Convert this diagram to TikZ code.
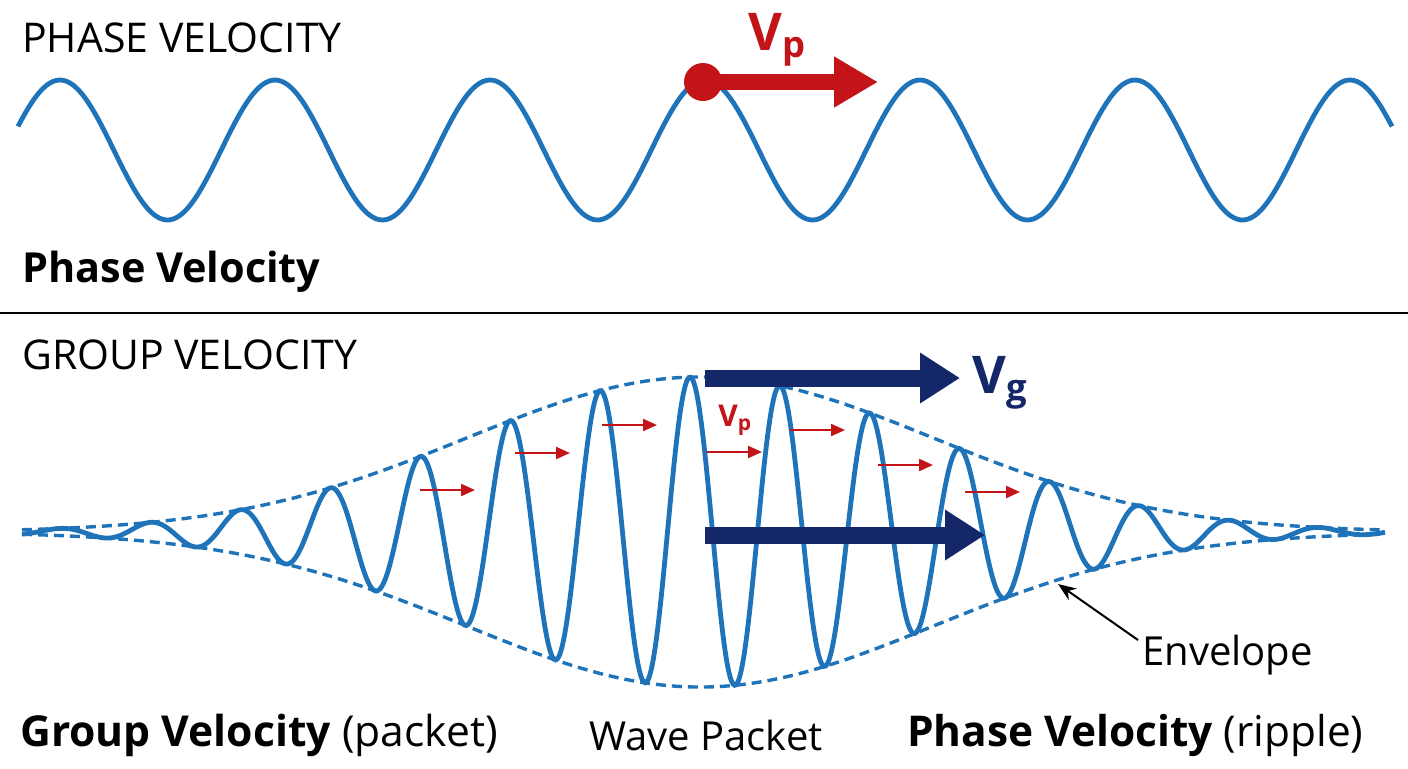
\documentclass[tikz,border=0pt]{standalone}
\usepackage{fontspec}
\setmainfont{Open Sans}
\usetikzlibrary{arrows.meta}
\definecolor{waveblue}{RGB}{30,115,185}
\definecolor{arrred}{RGB}{195,20,25}
\definecolor{navy}{RGB}{20,40,105}
\tikzset{every picture/.style={line width=0.75pt},
  wave/.style={color=waveblue,line width=2.4pt},
  env/.style={color=waveblue,line width=1.7pt,dash pattern=on 5pt off 3pt},
  small vp/.style={color=arrred,line width=1.1pt,-{Triangle[length=7pt,width=6pt]}},
  big vg/.style={color=navy,line width=8.5pt,-{Triangle[length=20pt,width=24pt]}},
  lbl/.style={inner sep=0.75pt,anchor=west}}
\begin{document}
\begin{tikzpicture}[x=0.5pt,y=-0.5pt]
\useasboundingbox (0,0) rectangle (1408,768);

%Shape: phase wave
\draw [wave] plot[domain=18:1392,samples=400,smooth] (\x,{150-70*cos((\x-705)*1.67442)});
% Crest marker and arrow
\coordinate (crest) at (703,82);
\coordinate (vptip) at (878,82);
\draw [color=arrred,line width=8pt,-{Triangle[length=22pt,width=24pt]}] (crest) -- (vptip);
\fill [arrred] (crest) circle (19);
\node [lbl,color=arrred] (vplabel) at (746,40) {\fontsize{26}{30}\selectfont\bfseries V\textsubscript{p}};

% Text Nodes
\node [lbl] (phasetitle) at (20,38) {\fontsize{20.5}{24}\selectfont PHASE VELOCITY};
\node [lbl] (phasename) at (20,272) {\fontsize{20.7}{24}\selectfont\bfseries Phase Velocity};

%Straight Lines: divider
\draw [line width=1pt] (0,313) -- (1408,313);

\node [lbl] (grouptitle) at (20,355) {\fontsize{20.5}{24}\selectfont GROUP VELOCITY};

%Curve Lines: envelope
\draw [env] plot[domain=22:1385,samples=150,smooth] (\x,{532-155*exp(-((\x-700)/330)^2)});
\draw [env] plot[domain=22:1385,samples=150,smooth] (\x,{532+155*exp(-((\x-700)/330)^2)});
%Curve Lines: packet
\draw [wave] plot[domain=22:1385,samples=900,smooth] (\x,{532-155*exp(-((\x-700)/330)^2)*cos(4*(\x-690))});

% group velocity arrows
\coordinate (vgA) at (705,378);
\coordinate (vgAt) at (960,378);
\coordinate (vgB) at (705,535);
\coordinate (vgBt) at (985,535);
\draw [big vg] (vgA) -- (vgAt);
\draw [big vg] (vgB) -- (vgBt);
\node [lbl,color=navy] (vglabel) at (970,383) {\fontsize{26}{30}\selectfont\bfseries V\textsubscript{g}};

% ripple arrows
\foreach \xa/\ya in {420/490,515/453,602/425,707/452,790/430,878/465,965/492}
  \draw [small vp] (\xa,\ya) -- ++(55,0);
\node [lbl,color=arrred] (vpsmall) at (716,420) {\fontsize{15}{18}\selectfont\bfseries V\textsubscript{p}};

% Envelope pointer
\node [lbl] (envlabel) at (1140,655) {\fontsize{20}{24}\selectfont Envelope};
\coordinate (envpt) at (1058,584);
\draw [line width=1pt,-{Stealth[length=9pt,width=7pt]}] (1138,640) -- (envpt);

% bottom captions
\node [lbl] (groupcap) at (18,735) {\fontsize{21.3}{25}\selectfont\textbf{Group Velocity} (packet)};
\node [inner sep=0.75pt] (packetcap) at (706,735) {\fontsize{20}{24}\selectfont Wave Packet};
\node [lbl] (phasecap) at (905,735) {\fontsize{21.2}{25}\selectfont\textbf{Phase Velocity} (ripple)};

\end{tikzpicture}
\end{document}
